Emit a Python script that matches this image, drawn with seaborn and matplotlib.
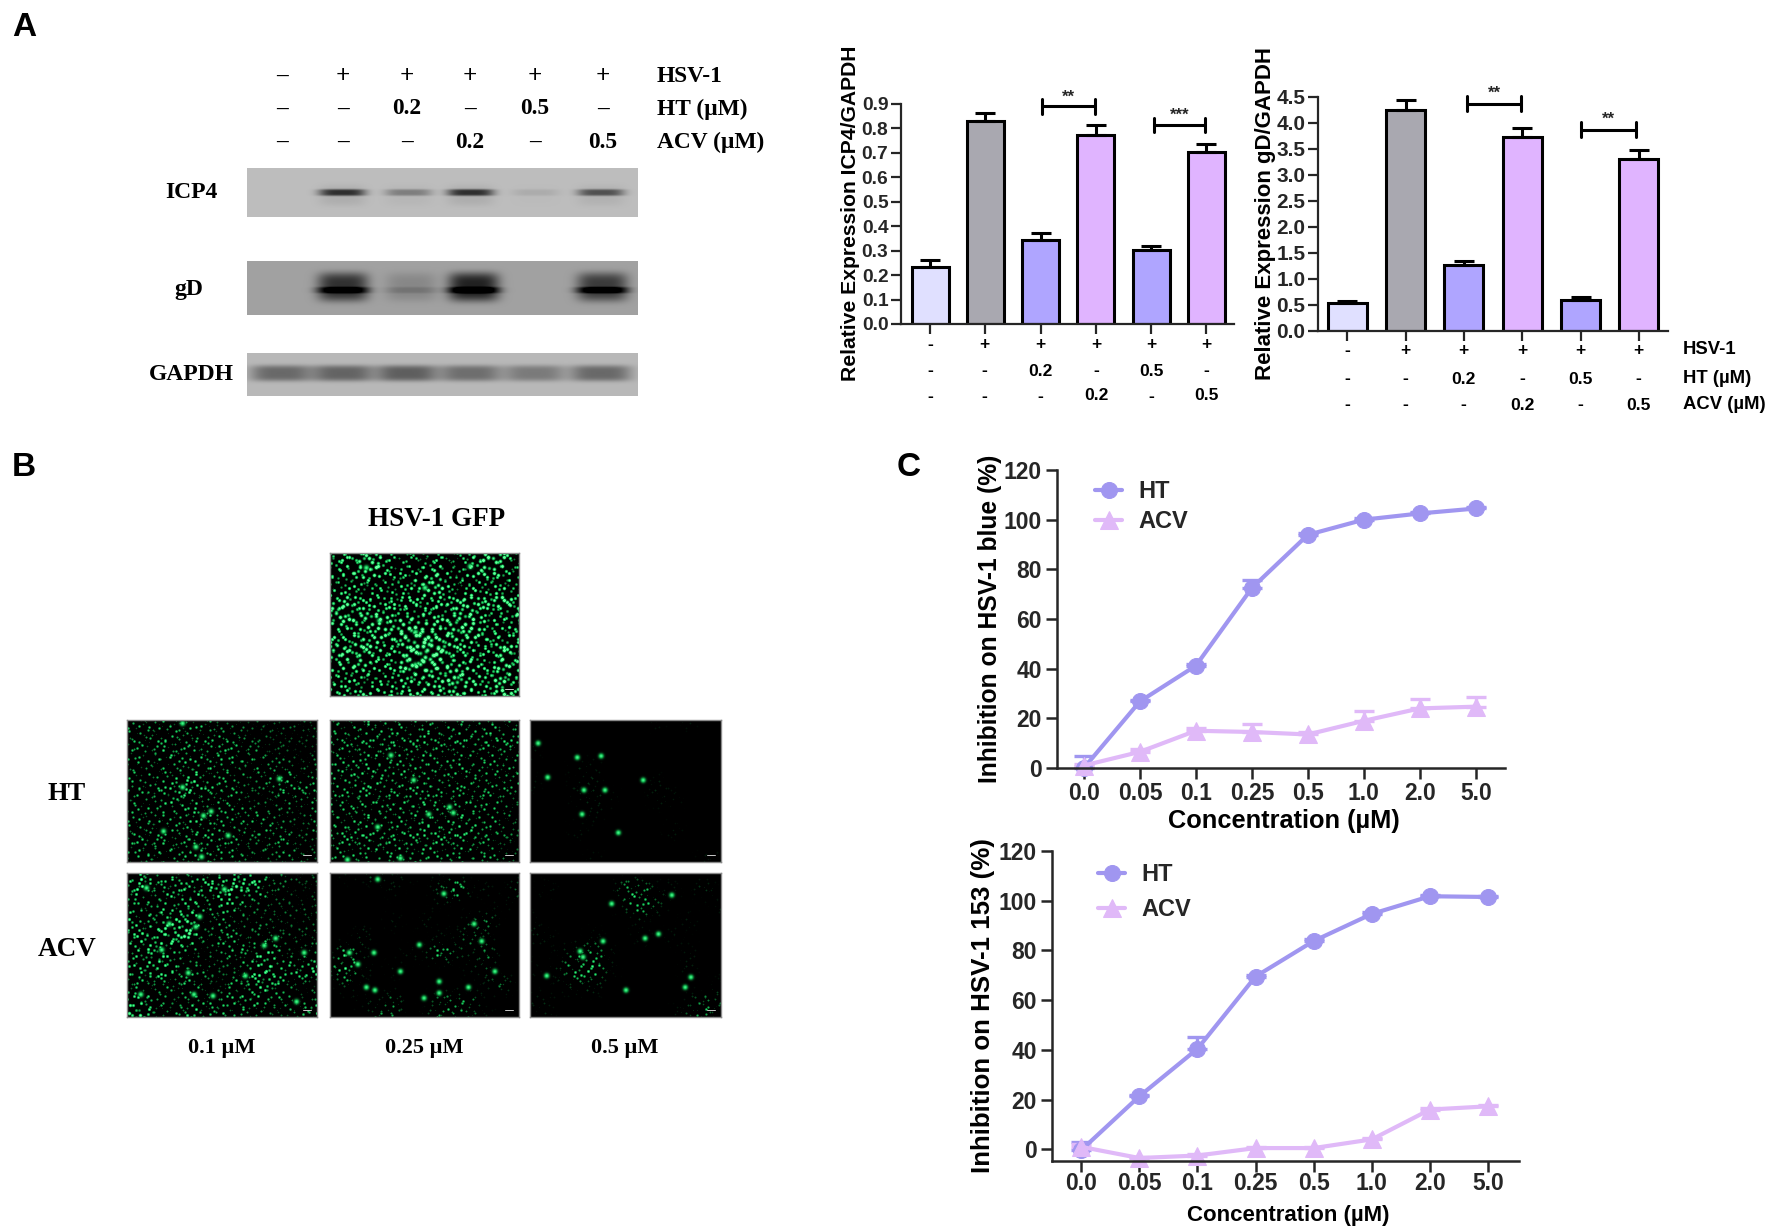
import numpy as np
import seaborn as sns
import matplotlib.pyplot as plt
from matplotlib.colors import LinearSegmentedColormap

W, H = 1775, 1229

# Panel A: lane annotations above the blots
lane_px = [282, 343, 407, 470, 535, 603]
hsv_row = ['–', '+', '+', '+', '+', '+']
ht_row = ['–', '–', '0.2', '–', '0.5', '–']
acv_row = ['–', '–', '–', '0.2', '–', '0.5']
row_names = ['HSV-1', 'HT (µM)', 'ACV (µM)']

# Blot bands: lane position, darkness
icp4_lanes = [0.243, 0.413, 0.572, 0.739, 0.906]
icp4_dark = [0.50, 0.22, 0.50, 0.06, 0.38]
gd_lanes = [0.245, 0.42, 0.58, 0.91]
gd_smear = [0.44, 0.10, 0.50, 0.40]
gd_core = [0.38, 0.08, 0.40, 0.42]
gapdh_lanes = [0.086, 0.245, 0.409, 0.572, 0.736, 0.906]
gapdh_dark = [0.31, 0.33, 0.35, 0.29, 0.24, 0.31]

# Panel A: bar charts
bar_ids = ['a', 'b', 'c', 'd', 'e', 'f']
bar_colors = ['#e0e0ff', '#a9a8b0', '#afa5ff', '#e0b4ff', '#afa5ff', '#e0b4ff']
icp4_vals = [0.232, 0.831, 0.344, 0.772, 0.303, 0.703]
icp4_tops = [0.262, 0.864, 0.374, 0.813, 0.319, 0.735]
gd_vals = [0.54, 4.25, 1.27, 3.73, 0.60, 3.30]
gd_tops = [0.58, 4.45, 1.34, 3.91, 0.655, 3.48]
icp4_ticks = [0.0, 0.1, 0.2, 0.3, 0.4, 0.5, 0.6, 0.7, 0.8, 0.9]
gd_ticks = [0.0, 0.5, 1.0, 1.5, 2.0, 2.5, 3.0, 3.5, 4.0, 4.5]

# Panel C: inhibition curves
conc_labels = ['0.0', '0.05', '0.1', '0.25', '0.5', '1.0', '2.0', '5.0']
blue_ht = [0.0, 26.8, 41.2, 72.5, 93.9, 100.0, 102.5, 104.5]
blue_ht_top = [5.0, 27.5, 42.0, 75.8, 94.5, 100.5, 103.0, 105.0]
blue_acv = [1.0, 6.5, 15.0, 14.5, 13.5, 19.0, 24.0, 24.7]
blue_acv_top = [1.5, 7.5, 16.0, 17.8, 14.5, 23.0, 27.7, 28.4]
s153_ht = [-0.4, 21.3, 40.4, 69.5, 83.8, 94.7, 101.8, 101.5]
s153_ht_top = [3.0, 22.0, 45.0, 70.0, 84.5, 95.3, 102.3, 102.0]
s153_acv = [1.0, -3.5, -2.5, 0.5, 0.5, 4.0, 16.0, 17.3]
s153_acv_top = [2.0, -3.0, -2.0, 1.0, 1.0, 4.5, 16.5, 18.0]

# Panel B: brightness of each micrograph read on a coarse grid (0-9)
top_grid = ['6687444436884', '7688556747874', '4565568846564', '7765666677786',
            '8888777788668', '6677899788757', '8787689976686', '7786699877587',
            '6665677797786', '7676767776687']
ht1_grid = ['3333332222222', '3333333322222', '3344334332212', '3333443333323',
            '3334643323433', '3345433322333', '3333443333223', '3333443333323',
            '3443343323322', '3333443332332']
ht2_grid = ['3344333333333', '3333434343443', '3344344333343', '3444343343333',
            '3444343333333', '3343344333332', '3344344344332', '3443344444332',
            '3444444443322', '3333343333332']
ht3_grid = ['0000000010100', '0000000000000', '1000000000000', '0001100000000',
            '1001100010000', '0001110011000', '0000100000000', '0001000001000',
            '0000000000000', '0000100000011']
acv1_grid = ['3633333552322', '5636466763212', '3343535422222', '6366723232222',
             '4657724323222', '3564223446223', '4564332256456', '3333422456322',
             '5532333443323', '7733654342256']
acv2_grid = ['0113110100000', '0000100261103', '0000000100010', '0000101002300',
             '0020000113100', '0510011521300', '2620100001200', '0200000000130',
             '0011300333000', '0003301332100']
acv3_grid = ['0000000000000', '0100004411020', '0000002520001', '1000000100100',
             '1100100101000', '0013410000100', '1025510000100', '0012200000001',
             '1100000000132', '0100000001241']

# Brightest spots of each micrograph, as fractions of its width and height
top_spots = [(0.19, 0.10), (0.74, 0.09), (0.50, 0.24), (0.26, 0.47), (0.45, 0.55), (0.45, 0.78)]
ht1_spots = [(0.29, 0.47), (0.29, 0.02), (0.40, 0.67), (0.44, 0.64), (0.19, 0.78), (0.39, 0.96), (0.80, 0.41),
             (0.36, 0.89), (0.53, 0.81)]
ht2_spots = [(0.32, 0.245), (0.52, 0.66), (0.63, 0.61), (0.65, 0.65), (0.25, 0.75), (0.44, 0.42), (0.09, 0.98),
             (0.37, 0.97)]
ht3_spots = [(0.04, 0.16), (0.245, 0.26), (0.37, 0.25), (0.09, 0.40), (0.59, 0.42), (0.28, 0.49), (0.27, 0.66),
             (0.46, 0.79), (0.39, 0.49)]
acv1_spots = [(0.36, 0.37), (0.22, 0.35), (0.18, 0.53), (0.07, 0.84), (0.35, 0.84), (0.78, 0.45), (0.93, 0.55),
              (0.10, 0.10), (0.51, 0.11), (0.32, 0.69), (0.62, 0.71), (0.89, 0.89), (0.45, 0.85), (0.38, 0.30),
              (0.72, 0.50)]
acv2_spots = [(0.25, 0.04), (0.60, 0.14), (0.10, 0.55), (0.145, 0.63), (0.47, 0.495), (0.575, 0.75), (0.575, 0.83),
              (0.73, 0.79), (0.76, 0.35), (0.80, 0.47), (0.235, 0.81), (0.87, 0.68), (0.19, 0.79), (0.495, 0.865),
              (0.23, 0.55), (0.37, 0.68)]
acv3_spots = [(0.425, 0.21), (0.26, 0.54), (0.275, 0.58), (0.81, 0.79), (0.74, 0.15), (0.60, 0.45), (0.085, 0.71),
              (0.50, 0.81), (0.84, 0.72), (0.67, 0.42), (0.38, 0.47)]

# Hand placed cells of two speckle tiles, with different periods so they do not line up
tile_a_x = [2, 9, 13, 21, 26, 33, 38, 44, 5, 16, 19, 29, 35, 41, 1, 11, 24, 27, 37, 45, 7, 14, 18,
            31, 40, 3, 10, 22, 28, 34, 43, 6, 17, 25, 36, 46, 12, 20, 30, 39, 4, 15, 23, 32, 42]
tile_a_y = [3, 1, 6, 4, 9, 2, 7, 5, 12, 10, 15, 13, 11, 16, 20, 18, 17, 22, 19, 24, 26, 23, 28,
            25, 21, 31, 34, 30, 33, 29, 35, 39, 37, 41, 36, 42, 44, 40, 45, 38, 46, 43, 35, 44, 41]
tile_a_gain = [1.0, 0.6, 0.9, 0.5, 1.0, 0.7, 0.8, 0.5, 0.9, 1.0, 0.6, 0.8, 0.5, 1.0, 0.7, 0.9, 0.6, 1.0, 0.5, 0.8, 1.0, 0.6, 0.9,
               0.7, 0.5, 1.0, 0.8, 0.6, 0.9, 0.5, 1.0, 0.7, 0.9, 0.6, 1.0, 0.5, 0.8, 1.0, 0.6, 0.9, 0.7, 1.0, 0.5, 0.8, 0.9]
tile_b_x = [4, 12, 23, 28, 8, 17, 26, 1, 14, 21, 6, 29, 10, 19, 25, 3]
tile_b_y = [5, 2, 7, 13, 11, 16, 20, 18, 24, 27, 29, 25, 21, 9, 3, 14]
tile_b_gain = [0.8, 1.0, 0.6, 0.9, 1.0, 0.5, 0.8, 0.7, 1.0, 0.6, 0.9, 0.5, 0.7, 1.0, 0.8, 0.6]

sns.set_theme(style='ticks')
plt.rcParams['font.family'] = ['Liberation Sans', 'DejaVu Sans']
plt.rcParams['axes.linewidth'] = 1.6

fig = plt.figure(figsize=(W / 100, H / 100), dpi=100, facecolor='white')


def px_axes(left, top, right, bottom):
    return fig.add_axes([left / W, 1 - bottom / H, (right - left) / W, (bottom - top) / H])


def px_text(x, y, s, size=15, weight='bold', family='Liberation Sans', ha='center', rotation=0):
    fig.text(x / W, 1 - y / H, s, fontsize=size, fontweight=weight, family=family, ha=ha, va='center',
             rotation=rotation, color='black')


def serif_text(x, y, s, size=16, ha='center'):
    px_text(x, y, s, size=size, family='Liberation Serif', ha=ha)


def band(size, centre, half, power=4):
    pos = np.linspace(0, 1, size)
    return np.exp(-np.abs((pos - centre) / half) ** power)


def draw_blot(box, bg, layers):
    # layers: (lane positions, darkness, band height, half height, half width)
    ax = px_axes(*box)
    h = box[3] - box[1]
    w = box[2] - box[0]
    img = np.full((h, w), bg)
    for lanes, dark, centre, half_h, half_w in layers:
        for lane, d in zip(lanes, dark):
            img -= d * np.outer(band(h, centre, half_h), band(w, lane, half_w))
    sns.heatmap(img, ax=ax, cmap='gray', vmin=0, vmax=1, cbar=False, xticklabels=False, yticklabels=False)
    ax.set_xlabel('')


def upsample(grid, h, w):
    vals = np.array([[int(c) for c in row] for row in grid], dtype=float) / 9
    xs = np.linspace(0, vals.shape[1] - 1, w)
    ys = np.linspace(0, vals.shape[0] - 1, h)
    rows = np.array([np.interp(xs, np.arange(vals.shape[1]), r) for r in vals])
    return np.array([np.interp(ys, np.arange(vals.shape[0]), rows[:, j]) for j in range(w)]).T


def speckle_tile(period, cell_x, cell_y, cell_gain):
    yy, xx = np.mgrid[0:period, 0:period]
    tile = np.zeros((period, period))
    for cx, cy, g in zip(cell_x, cell_y, cell_gain):
        dx = np.minimum(np.abs(xx - cx), period - np.abs(xx - cx))
        dy = np.minimum(np.abs(yy - cy), period - np.abs(yy - cy))
        tile = np.maximum(tile, g * np.exp(-(dx ** 2 + dy ** 2) / 3.0))
    return tile


tile_a = speckle_tile(47, tile_a_x, tile_a_y, tile_a_gain)
tile_b = speckle_tile(31, tile_b_x, tile_b_y, tile_b_gain)
green_map = LinearSegmentedColormap.from_list('gfp', ['#000000', '#0c7a34', '#1fd868', '#6cff9e'])


def draw_micrograph(box, grid, spots):
    ax = px_axes(*box)
    h = box[3] - box[1]
    w = box[2] - box[0]
    yy, xx = np.mgrid[0:h, 0:w]
    speckle = np.maximum(tile_a[(yy + box[1]) % 47, (xx + box[0] * 3) % 47],
                         tile_b[(yy + box[0]) % 31, (xx + box[1]) % 31])
    # where the grid is dim only the strongest cells stay visible, so clusters stand out
    d = upsample(grid, h, w)
    img = np.clip(1.4 * speckle - 0.8 * (1 - d), 0, 1) * (0.5 + 0.7 * d) * np.minimum(1, d * 3)
    for fx, fy in spots:
        img = np.maximum(img, 0.85 * np.exp(-((xx - fx * w) ** 2 + (yy - fy * h) ** 2) / 6.0))
    ax.imshow(img, cmap=green_map, vmin=0, vmax=1, aspect='auto', interpolation='bilinear')
    ax.set_xticks([])
    ax.set_yticks([])
    for s in ax.spines.values():
        s.set_color('#8a8a8a')
        s.set_linewidth(1)
    ax.plot([0.925, 0.97], [0.05, 0.05], transform=ax.transAxes, color='#c8c8c8', lw=0.7)


def bar_panel(box, vals, tops, ticks, ymax, xlim, ylabel, ylabel_x, label_size, tick_size):
    ax = px_axes(*box)
    sns.barplot(x=bar_ids, y=vals, hue=bar_ids, palette=bar_colors, legend=False, width=0.67,
                edgecolor='black', linewidth=2.2, saturation=1, ax=ax)
    errs = np.array(tops) - np.array(vals)
    ax.errorbar(range(6), vals, yerr=[np.zeros(6), errs], fmt='none', ecolor='black',
                elinewidth=2.2, capsize=7, capthick=2.2, zorder=1)
    ax.set_xlim(*xlim)
    ax.set_ylim(0, ymax)
    ax.set_yticks(ticks)
    ax.set_yticklabels([f'{t:.1f}' for t in ticks], fontsize=tick_size, fontweight='bold')
    ax.set_xticks(range(6))
    ax.set_xticklabels([])
    ax.tick_params(width=1.6, length=7, pad=2)
    ax.set_ylabel('')
    sns.despine(ax=ax)
    ax.patch.set_alpha(0)
    px_text(ylabel_x, 213, ylabel, size=label_size, rotation=90)
    return ax


def bracket(ax, x0, x1, y, stars, dy):
    ax.plot([x0, x0, None, x0, x1, None, x1, x1], [y - dy, y + dy, None, y, y, None, y - dy, y + dy],
            color='black', lw=2.2, clip_on=False)
    ax.text((x0 + x1) / 2, y + dy * 1.35, stars, ha='center', va='center', fontsize=12, fontweight='bold')


def curve_panel(box, ht, ht_top, acv, acv_top, ymin, xlim, ylabel, ylabel_x, ylabel_y, ylabel_size,
                xlabel_y, xlabel_size, legend_xy, spacing, xpad):
    ax = px_axes(*box)
    pos = np.arange(8)
    blue = '#a096f0'
    pink = '#e0b9f8'
    for vals, tops, col in [(ht, ht_top, blue), (acv, acv_top, pink)]:
        ax.errorbar(pos, vals, yerr=[np.zeros(8), np.array(tops) - np.array(vals)], fmt='none', ecolor=col,
                    elinewidth=2.4, capsize=7, capthick=2.4, clip_on=False)
    sns.lineplot(x=pos, y=ht, color=blue, lw=3, marker='o', markersize=11.5, markeredgecolor=blue, label='HT',
                 clip_on=False, ax=ax)
    sns.lineplot(x=pos, y=acv, color=pink, lw=3, marker='^', markersize=12.5, markeredgecolor=pink, label='ACV',
                 clip_on=False, ax=ax)
    ax.set_xlim(*xlim)
    ax.set_ylim(ymin, 120)
    ax.set_yticks([0, 20, 40, 60, 80, 100, 120])
    ax.set_yticklabels(['0', '20', '40', '60', '80', '100', '120'], fontsize=16.5, fontweight='bold')
    ax.set_xticks(pos)
    ax.set_xticklabels(conc_labels, fontsize=16.5, fontweight='bold')
    ax.tick_params(axis='x', width=1.8, length=8, pad=xpad)
    ax.tick_params(axis='y', width=1.8, length=8, pad=3)
    ax.set_xlabel('')
    ax.set_ylabel('')
    sns.despine(ax=ax)
    for s in ax.spines.values():
        s.set_linewidth(1.8)
    ax.legend(loc='upper left', bbox_to_anchor=(legend_xy[0] / W, 1 - legend_xy[1] / H),
              bbox_transform=fig.transFigure, frameon=False, handlelength=1.15, labelspacing=spacing,
              handletextpad=0.68, prop={'size': 17, 'weight': 'bold'}, borderpad=0, borderaxespad=0)
    px_text(ylabel_x, ylabel_y, ylabel, size=ylabel_size, rotation=90)
    px_text((box[0] + box[2]) / 2 + 3, xlabel_y, 'Concentration (µM)', size=xlabel_size)


# Panel letters
px_text(24, 27, 'A', size=24)
px_text(24, 467, 'B', size=24)
px_text(909, 467, 'C', size=24)

# Panel A header
for row, y in zip([hsv_row, ht_row, acv_row], [76, 109, 142]):
    for x, s in zip(lane_px, row):
        serif_text(x, y, s, size=18 if s == '+' else 16.8)
for name, y in zip(row_names, [76, 109, 142]):
    serif_text(657, y, name, size=16.8, ha='left')
serif_text(191, 193, 'ICP4', size=17)
serif_text(189, 290, 'gD', size=17)
serif_text(191, 375, 'GAPDH', size=17)

# Blots
draw_blot((247, 168, 638, 217), 0.74, [(icp4_lanes, icp4_dark, 0.50, 0.07, 0.06),
                                       (icp4_lanes, np.array(icp4_dark) * 0.12, 0.56, 0.22, 0.06)])
draw_blot((247, 261, 638, 315), 0.63, [(gd_lanes, gd_smear, 0.48, 0.27, 0.065),
                                       (gd_lanes, gd_core, 0.54, 0.06, 0.068)])
draw_blot((247, 353, 638, 396), 0.72, [(gapdh_lanes, gapdh_dark, 0.47, 0.19, 0.078)])

# Panel A bars
ax1 = bar_panel((901, 104, 1234, 324), icp4_vals, icp4_tops, icp4_ticks, 0.9, (-0.525, 5.5),
                'Relative Expression ICP4/GAPDH', 851, 15.2, 13.8)
bracket(ax1, 2.02, 2.98, 0.89, '**', 0.029)
bracket(ax1, 4.05, 4.97, 0.815, '***', 0.029)
ax2 = bar_panel((1318, 97, 1668, 331), gd_vals, gd_tops, gd_ticks, 4.5, (-0.5, 5.5),
                'Relative Expression gD/GAPDH', 1265, 16, 15)
bracket(ax2, 2.06, 2.98, 4.37, '**', 0.145)
bracket(ax2, 4.0, 4.95, 3.87, '**', 0.145)

# Rows below the bars
bar_px_1 = [930, 984, 1040, 1096, 1151, 1206]
bar_px_2 = [1347, 1405, 1463, 1522, 1580, 1638]
hsv_plain = ['-', '+', '+', '+', '+', '+']
ht_plain = ['-', '-', '0.2', '-', '0.5', '-']
acv_plain = ['-', '-', '-', '0.2', '-', '0.5']
for row, y1, y2 in zip([hsv_plain, ht_plain, acv_plain], [345, 371, 396], [351, 379, 405]):
    for x, s in zip(bar_px_1, row):
        px_text(x, y1, s, size=12.6)
    for x, s in zip(bar_px_2, row):
        px_text(x, y2, s, size=12.6)
for name, y in zip(row_names, [350, 378, 404]):
    px_text(1683, y, name, size=13.3, ha='left')

# Panel B
serif_text(437, 520, 'HSV-1 GFP', size=19.5)
serif_text(67, 794, 'HT', size=19)
serif_text(67, 950, 'ACV', size=19.5)
serif_text(222, 1048, '0.1 µM')
serif_text(424, 1048, '0.25 µM')
serif_text(625, 1048, '0.5 µM')
draw_micrograph((330, 553, 519, 696), top_grid, top_spots)
draw_micrograph((127, 720, 317, 862), ht1_grid, ht1_spots)
draw_micrograph((330, 720, 519, 862), ht2_grid, ht2_spots)
draw_micrograph((530, 720, 721, 862), ht3_grid, ht3_spots)
draw_micrograph((127, 873, 317, 1017), acv1_grid, acv1_spots)
draw_micrograph((330, 873, 519, 1017), acv2_grid, acv2_spots)
draw_micrograph((530, 873, 721, 1017), acv3_grid, acv3_spots)

# Panel C
curve_panel((1057, 470, 1505, 768), blue_ht, blue_ht_top, blue_acv, blue_acv_top, 0, (-0.48, 7.52),
            'Inhibition on HSV-1 blue (%)', 990, 619, 17.7, 821, 18.3, (1095, 480), 0.3, 2)
curve_panel((1052, 851, 1519, 1161), s153_ht, s153_ht_top, s153_acv, s153_acv_top, -4.7, (-0.5, 7.53),
            'Inhibition on HSV-1 153 (%)', 983, 1006, 18.6, 1215, 16, (1098, 863), 0.5, 0)

plt.savefig('out.png', dpi=100, facecolor='white')
